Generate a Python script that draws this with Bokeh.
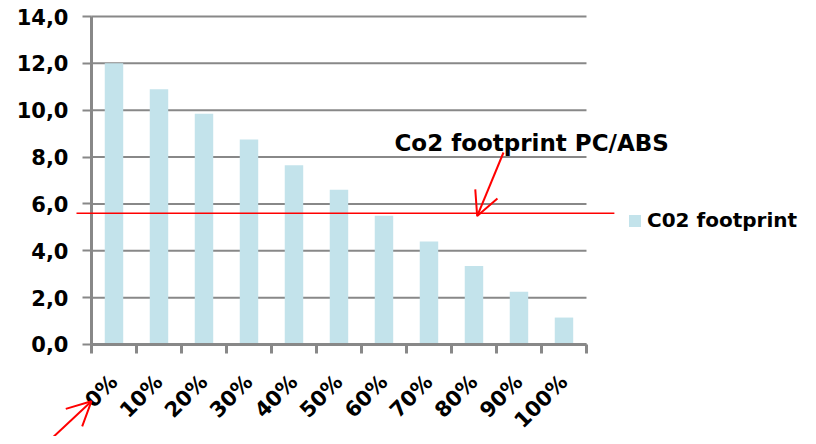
import math
from bokeh.plotting import figure
from bokeh.models import (Range1d, LinearAxis, FixedTicker, Arrow, OpenHead, Label,
                          Legend, LegendItem, ColumnDataSource)
from bokeh.embed import file_html
from bokeh.resources import INLINE

# ---- data ----
shares = ["0%", "10%", "20%", "30%", "40%", "50%", "60%", "70%", "80%", "90%", "100%"]
co2 = [12.0, 10.9, 9.85, 8.75, 7.65, 6.6, 5.5, 4.4, 3.35, 2.25, 1.15]
y_ticks = [0, 2, 4, 6, 8, 10, 12, 14]
y_tick_labels = ["0,0", "2,0", "4,0", "6,0", "8,0", "10,0", "12,0", "14,0"]
pcabs_level = 5.6
series_name = "C02 footprint"
annotation_text = "Co2 footprint PC/ABS"

FONT = "DejaVu Sans"
GRAY = "#888888"
BAR = "#c3e3eb"
N = len(shares)

# category positions (category i occupies [i, i+1])
x_centers = [i + 0.5 for i in range(N)]
x_bounds = list(range(N + 1))

p = figure(width=800, height=436,
           x_range=Range1d(-2.022, 15.756), y_range=Range1d(-3.927, 14.683),
           output_backend="svg", toolbar_location=None,
           x_axis_location=None, y_axis_location=None,
           min_border_left=0, min_border_right=0, min_border_top=0, min_border_bottom=0)
p.outline_line_color = None
p.grid.visible = False

# horizontal gridlines across the category area, under the bars
p.segment(x0=[0] * len(y_ticks), x1=[N] * len(y_ticks), y0=y_ticks, y1=y_ticks,
          line_color=GRAY, line_width=2)

src = ColumnDataSource(dict(x=x_centers, share=shares, co2=co2))
bars = p.vbar(x="x", top="co2", width=0.41, source=src, fill_color=BAR, line_color=None)

# y axis at x = 0
yax = LinearAxis(ticker=FixedTicker(ticks=y_ticks), fixed_location=0, bounds=(0, 14),
                 major_label_overrides={t: l for t, l in zip(y_ticks, y_tick_labels)},
                 axis_line_color=GRAY, axis_line_width=3,
                 major_tick_line_color=GRAY, major_tick_line_width=2,
                 major_tick_in=0, major_tick_out=9, minor_tick_line_color=None,
                 major_label_standoff=14,
                 major_label_text_font=FONT, major_label_text_font_style="bold",
                 major_label_text_font_size="21px", major_label_text_color="black")
p.add_layout(yax, "left")

# x axis at y = 0: labels at category centres, tick marks at category boundaries
xax = LinearAxis(ticker=FixedTicker(ticks=x_centers, minor_ticks=x_bounds),
                 fixed_location=0, bounds=(0, N),
                 major_label_overrides={c: s for c, s in zip(x_centers, shares)},
                 axis_line_color=GRAY, axis_line_width=3,
                 major_tick_line_color=None, major_tick_in=0, major_tick_out=9,
                 minor_tick_line_color=GRAY, minor_tick_line_width=3,
                 minor_tick_in=0, minor_tick_out=9,
                 major_label_orientation=math.pi / 4, major_label_standoff=25,
                 major_label_text_font=FONT, major_label_text_font_style="bold",
                 major_label_text_font_size="21px", major_label_text_color="black")
p.add_layout(xax, "below")

# red PC/ABS reference line and arrows
p.add_layout(Arrow(end=None, x_start=-0.333, y_start=pcabs_level, x_end=11.62, y_end=pcabs_level,
                   line_color="red", line_width=1.5))
p.add_layout(Arrow(end=OpenHead(size=24, line_color="red", line_width=2),
                   x_start=9.156, y_start=8.195, x_end=8.571, y_end=pcabs_level - 0.12,
                   line_color="red", line_width=2))
p.add_layout(Arrow(end=OpenHead(size=24, line_color="red", line_width=2),
                   x_start=-0.978, y_start=-4.18, x_end=0.0, y_end=-2.42,
                   line_color="red", line_width=2))

p.add_layout(Label(x=6.733, y=8.6, text=annotation_text, text_font=FONT,
                   text_font_style="bold", text_font_size="23px", text_color="black",
                   text_baseline="alphabetic"))

legend = Legend(items=[LegendItem(label=series_name, renderers=[bars])],
                location=(627, 204), border_line_color=None, background_fill_alpha=0,
                padding=0, margin=0, glyph_width=15, glyph_height=15, label_standoff=5,
                label_text_font=FONT, label_text_font_style="bold",
                label_text_font_size="20px", label_text_color="black")
p.add_layout(legend, "center")

open("out.html", "w").write(file_html(p, INLINE))
